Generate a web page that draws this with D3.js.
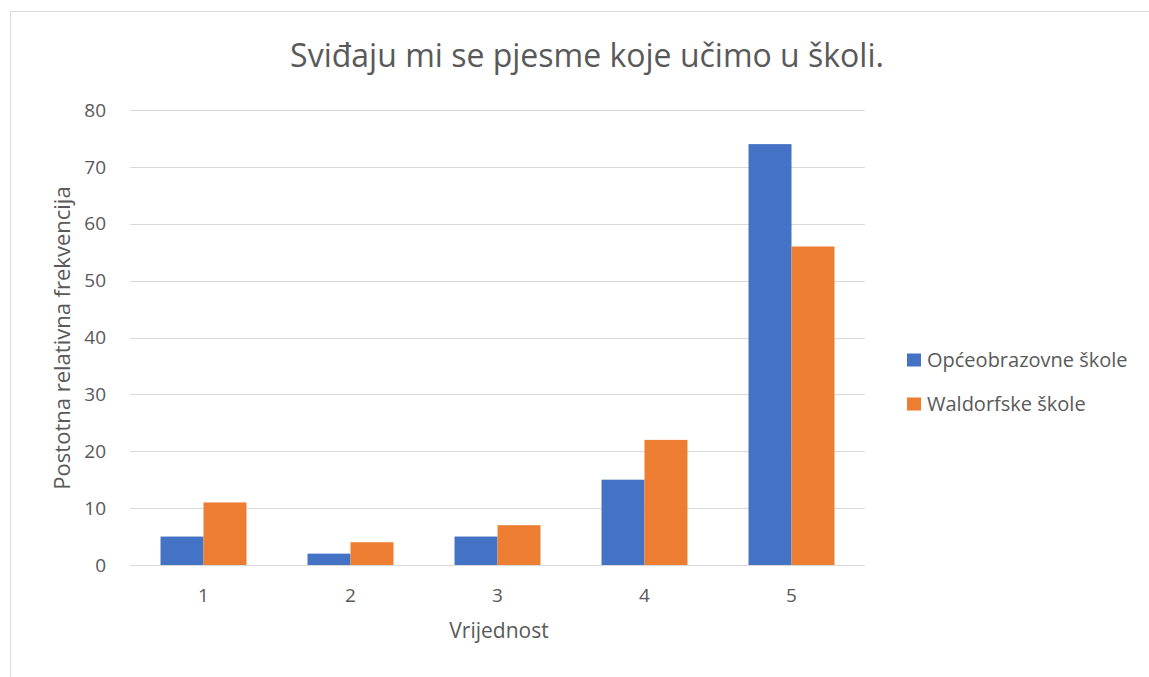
<!DOCTYPE html>
<html>
<head>
<meta charset="utf-8">
<script src="https://cdn.jsdelivr.net/npm/d3@7"></script>
<style>
  body { margin: 0; background: #fff; }
  text { font-family: "Open Sans", sans-serif; fill: #595959; }
</style>
</head>
<body>
<script>
'use strict';

const categories = ["1", "2", "3", "4", "5"];
const seriesNames = ["Općeobrazovne škole", "Waldorfske škole"];
const opceValues = [5, 2, 5, 15, 74];
const waldorfValues = [11, 4, 7, 22, 56];
const yTicks = [0, 10, 20, 30, 40, 50, 60, 70, 80];
const colors = ["#4472c4", "#ed7d31"];

const svg = d3.select("body").append("svg")
  .attr("width", 1149)
  .attr("height", 677);

// chart border
svg.append("rect")
  .attr("x", 10.5).attr("y", 11.5)
  .attr("width", 1200).attr("height", 700)
  .attr("fill", "none")
  .attr("stroke", "#d9d9d9");

const x = d3.scaleBand()
  .domain(categories)
  .range([130, 865]);

const xInner = d3.scaleBand()
  .domain(seriesNames)
  .range([0, x.bandwidth()])
  .paddingInner(0)
  .paddingOuter(0.71);

const y = d3.scaleLinear()
  .domain([0, 80])
  .range([565, 110]);

// gridlines
svg.append("g")
  .selectAll("line")
  .data(yTicks)
  .join("line")
    .attr("x1", 130).attr("x2", 865)
    .attr("y1", d => Math.round(y(d)) + 0.5)
    .attr("y2", d => Math.round(y(d)) + 0.5)
    .attr("stroke", "#d9d9d9")
    .attr("stroke-width", 1);

// y tick labels
svg.append("g")
  .selectAll("text")
  .data(yTicks)
  .join("text")
    .attr("x", 106)
    .attr("y", d => y(d))
    .attr("dy", "0.35em")
    .attr("text-anchor", "end")
    .style("font-size", "19px")
    .text(d => d);

// bars
const rows = categories.map((c, i) => ({ cat: c, vals: [opceValues[i], waldorfValues[i]] }));
const groups = svg.append("g")
  .selectAll("g")
  .data(rows)
  .join("g")
    .attr("transform", d => `translate(${x(d.cat)},0)`);

groups.selectAll("rect")
  .data(d => d.vals.map((v, j) => ({ name: seriesNames[j], v: v, j: j })))
  .join("rect")
    .attr("x", d => xInner(d.name))
    .attr("y", d => y(d.v))
    .attr("width", xInner.bandwidth())
    .attr("height", d => y(0) - y(d.v))
    .attr("fill", d => colors[d.j]);

// x tick labels
svg.append("g")
  .selectAll("text")
  .data(categories)
  .join("text")
    .attr("x", d => x(d) + x.bandwidth() / 2)
    .attr("y", 595)
    .attr("dy", "0.35em")
    .attr("text-anchor", "middle")
    .style("font-size", "19px")
    .text(d => d);

// title
svg.append("text")
  .attr("x", 587)
  .attr("y", 67)
  .attr("text-anchor", "middle")
  .style("font-size", "32px")
  .text("Sviđaju mi se pjesme koje učimo u školi.");

// axis titles
svg.append("text")
  .attr("x", 499)
  .attr("y", 631)
  .attr("dy", "0.35em")
  .attr("text-anchor", "middle")
  .style("font-size", "21px")
  .text("Vrijednost");

svg.append("text")
  .attr("transform", "translate(62,338)rotate(-90)")
  .attr("dy", "0.35em")
  .attr("text-anchor", "middle")
  .style("font-size", "22px")
  .text("Postotna relativna frekvencija");

// legend
const legend = svg.append("g")
  .selectAll("g")
  .data(seriesNames)
  .join("g")
    .attr("transform", (d, i) => `translate(907,${360 + i * 44})`);

legend.append("rect")
  .attr("x", 0).attr("y", -6.5)
  .attr("width", 14).attr("height", 13)
  .attr("fill", (d, i) => colors[i]);

legend.append("text")
  .attr("x", 20)
  .attr("dy", "0.35em")
  .style("font-size", "20px")
  .text(d => d);
</script>
</body>
</html>
